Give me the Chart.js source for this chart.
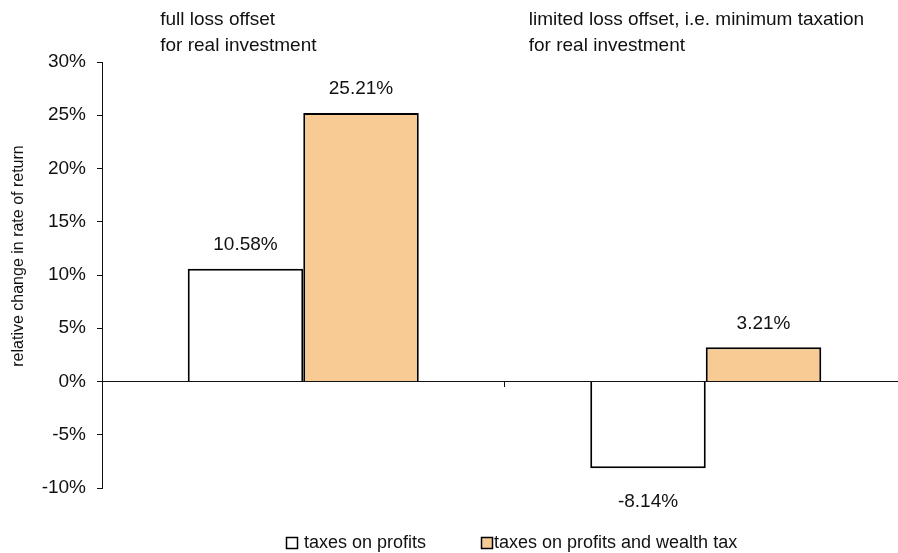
<!DOCTYPE html>
<html>
<head>
<meta charset="utf-8">
<script src="https://cdn.jsdelivr.net/npm/chart.js@4.4.1/dist/chart.umd.min.js"></script>
<style>
  html, body { margin: 0; padding: 0; background: #fff; overflow: hidden; }
  #wrap { width: 910px; height: 553px; }
</style>
</head>
<body>
<div id="wrap"><canvas id="chart" width="910" height="553"></canvas></div>
<script>
// --- Data ---
const categories = [
    ['full loss offset', 'for real investment'],
    ['limited loss offset, i.e. minimum taxation', 'for real investment']
];
const seriesNames = ['taxes on profits', 'taxes on profits and wealth tax'];
const profitsTax = [10.58, -8.14];
const profitsWealthTax = [25.21, 3.21];
const yTicks = [-10, -5, 0, 5, 10, 15, 20, 25, 30];
const yTitle = 'relative change in rate of return';

const FONT = '"Liberation Sans", Arial, sans-serif';
const ORANGE = '#F9CB94';

// draws category titles, value labels, axis title and the legend
const annotations = {
    id: 'annotations',
    afterDatasetsDraw(chart) {
        const ctx = chart.ctx;
        const x = chart.scales.x;
        ctx.save();
        ctx.fillStyle = '#111';
        ctx.font = '19px ' + FONT;

        // category titles above the plot
        const titleShift = [-143, -177];
        ctx.textAlign = 'left';
        ctx.textBaseline = 'middle';
        categories.forEach((lines, i) => {
            const left = x.getPixelForValue(i) + titleShift[i];
            lines.forEach((line, j) => ctx.fillText(line, left, 20 + j * 26));
        });

        // value labels
        ctx.textAlign = 'center';
        chart.data.datasets.forEach((ds, di) => {
            chart.getDatasetMeta(di).data.forEach((bar, i) => {
                const v = ds.data[i];
                const y = v >= 0 ? bar.y - 24 : bar.y + 34;
                ctx.fillText(v.toFixed(2) + '%', bar.x, y);
            });
        });

        // y axis title
        ctx.save();
        ctx.translate(19, 256);
        ctx.rotate(-Math.PI / 2);
        ctx.font = '16px ' + FONT;
        ctx.fillText(yTitle, 0, 0);
        ctx.restore();

        // legend
        const legendItems = [
            { box: 286, text: 304 },
            { box: 481, text: 494 }
        ];
        ctx.textAlign = 'left';
        ctx.font = '18px ' + FONT;
        legendItems.forEach((item, i) => {
            const ds = chart.data.datasets[i];
            ctx.fillStyle = ds.backgroundColor;
            ctx.fillRect(item.box, 537, 11, 11);
            ctx.strokeStyle = '#000';
            ctx.lineWidth = 1.5;
            ctx.strokeRect(item.box + 0.5, 537.5, 11, 11);
            ctx.fillStyle = '#111';
            ctx.fillText(seriesNames[i], item.text, 543);
        });
        ctx.restore();
    }
};

const chart = new Chart(document.getElementById('chart'), {
    type: 'bar',
    data: {
        labels: categories,
        datasets: [{
            label: seriesNames[0],
            data: profitsTax,
            backgroundColor: '#ffffff',
            borderColor: '#000',
            borderWidth: 2,
            categoryPercentage: 0.574,
            barPercentage: 1
        }, {
            label: seriesNames[1],
            data: profitsWealthTax,
            backgroundColor: ORANGE,
            borderColor: '#000',
            borderWidth: 2,
            categoryPercentage: 0.574,
            barPercentage: 1
        }]
    },
    options: {
        responsive: false,
        animation: false,
        layout: { padding: { top: 62, bottom: 65, left: 0, right: 3 } },
        plugins: {
            legend: { display: false },
            tooltip: { enabled: false }
        },
        scales: {
            x: {
                position: { y: 0 },
                ticks: { display: false },
                grid: {
                    offset: true,
                    drawOnChartArea: false,
                    tickLength: 5,
                    color: '#111'
                },
                border: { display: true, color: '#111', width: 1 }
            },
            y: {
                min: -10,
                max: 30,
                afterBuildTicks: s => { s.ticks = yTicks.map(v => ({ value: v })); },
                afterFit: s => { s.width = 102; },
                ticks: {
                    color: '#111',
                    font: { family: FONT, size: 19 },
                    padding: 11,
                    callback: v => v + '%'
                },
                grid: {
                    drawOnChartArea: false,
                    tickLength: 5,
                    color: '#111'
                },
                border: { display: true, color: '#111', width: 1 }
            }
        }
    },
    plugins: [annotations]
});
</script>
</body>
</html>
